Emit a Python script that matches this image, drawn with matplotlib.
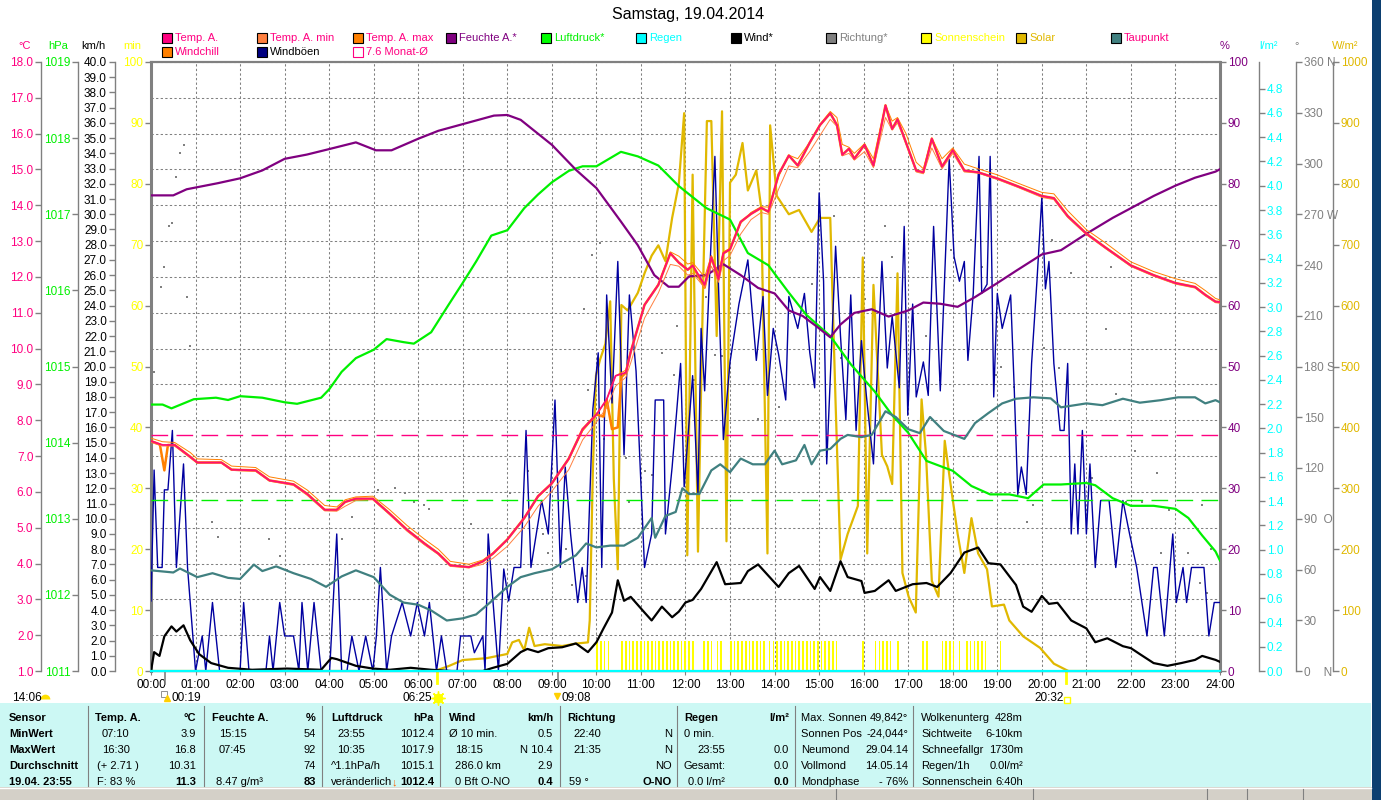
import numpy as np
import matplotlib
matplotlib.use("Agg")
import matplotlib.pyplot as plt
import matplotlib.transforms as mtransforms
from matplotlib.patches import Rectangle
from matplotlib.lines import Line2D

plt.rcParams['font.family'] = ['Liberation Sans', 'DejaVu Sans']

# ---------------- data (time in decimal hours) ----------------
title = "Samstag, 19.04.2014"

temp_t = [0.00, 0.26, 0.53, 0.88, 1.04, 1.58, 1.81, 2.35, 2.66, 3.20, 3.51, 3.90, 4.17, 4.36, 4.60,
          4.98, 5.36, 5.75, 6.14, 6.45, 6.72, 7.14, 7.45, 7.68, 8.00, 8.38, 8.69, 9.00, 9.38, 9.69,
          10.00, 10.23, 10.43, 10.66, 10.77, 11.08, 11.39, 11.66, 11.85, 12.05, 12.16, 12.43, 12.58,
          12.74, 12.85, 13.00, 13.24, 13.47, 13.70, 13.86, 14.09, 14.32, 14.52, 14.79, 15.02, 15.25,
          15.40, 15.52, 15.67, 15.79, 16.02, 16.22, 16.49, 16.64, 16.76, 16.95, 17.18, 17.34, 17.53,
          17.76, 18.00, 18.26, 18.57, 19.00, 19.46, 20.00, 20.27, 20.58, 21.00, 21.43, 22.00, 22.51,
          23.00, 23.44, 23.67, 23.90, 24.00]
temp_v = [7.42, 7.31, 7.31, 6.98, 6.82, 6.82, 6.62, 6.60, 6.32, 6.21,
          5.94, 5.50, 5.50, 5.72, 5.81, 5.81, 5.39, 4.94, 4.56, 4.28,
          3.95, 3.90, 4.06, 4.28, 4.67, 5.27, 5.88, 6.24, 6.93, 7.75,
          8.16, 8.58, 9.24, 9.33, 9.91, 11.22, 11.78, 12.66, 12.40, 12.20,
          12.32, 11.78, 12.55, 11.94, 12.66, 12.77, 13.54, 13.76, 13.93, 13.82,
          14.86, 15.39, 15.11, 15.75, 16.24, 16.57, 16.24, 15.41, 15.58, 15.30,
          15.69, 15.11, 16.79, 16.13, 16.40, 15.75, 14.97, 14.92, 15.86, 15.08,
          15.54, 14.97, 14.92, 14.75, 14.53, 14.26, 14.20, 13.70, 13.21, 12.82,
          12.32, 12.05, 11.83, 11.72, 11.50, 11.31, 11.30]
tmax_v = [7.50, 7.40, 7.38, 7.10, 6.92, 6.90, 6.72, 6.68, 6.42, 6.30,
          6.05, 5.62, 5.58, 5.78, 5.86, 5.88, 5.50, 5.06, 4.68, 4.40,
          4.06, 3.98, 4.10, 4.30, 4.68, 5.26, 5.86, 6.22, 6.90, 7.70,
          8.14, 8.58, 9.24, 9.40, 9.92, 11.20, 11.80, 12.70, 12.58, 12.36,
          12.40, 12.00, 12.60, 12.10, 12.70, 12.80, 13.50, 13.80, 13.96, 13.95,
          14.80, 15.40, 15.30, 15.76, 16.26, 16.62, 16.45, 15.70, 15.62, 15.45,
          15.72, 15.30, 16.80, 16.35, 16.45, 16.00, 15.20, 15.02, 15.88, 15.30,
          15.60, 15.15, 15.02, 14.85, 14.62, 14.36, 14.32, 13.85, 13.32, 12.95,
          12.42, 12.15, 11.95, 11.82, 11.62, 11.40, 11.36]
tmin_v = [7.38, 7.28, 7.28, 6.95, 6.80, 6.80, 6.60, 6.57, 6.30, 6.18,
          5.90, 5.47, 5.46, 5.60, 5.76, 5.78, 5.36, 4.90, 4.52, 4.25,
          3.92, 3.88, 3.98, 4.15, 4.48, 5.02, 5.60, 6.02, 6.62, 7.45,
          7.95, 8.35, 8.95, 9.20, 9.60, 10.85, 11.55, 12.35, 12.30, 12.05,
          12.10, 11.70, 12.30, 11.85, 12.45, 12.60, 13.20, 13.60, 13.80, 13.75,
          14.45, 15.10, 15.05, 15.50, 15.95, 16.40, 16.20, 15.38, 15.45, 15.26,
          15.50, 15.05, 16.45, 16.10, 16.30, 15.72, 14.93, 14.88, 15.60, 15.02,
          15.45, 14.93, 14.90, 14.72, 14.50, 14.22, 14.16, 13.66, 13.18, 12.79,
          12.29, 12.02, 11.80, 11.69, 11.47, 11.28, 11.27]

windchill = [(0.00, 7.42), (0.20, 7.32), (0.30, 6.60), (0.38, 7.31), (0.53, 7.31), (0.88, 6.98),
             (1.04, 6.82), (1.58, 6.82), (1.81, 6.62), (2.35, 6.60), (2.66, 6.32), (3.20, 6.21),
             (3.51, 5.94), (3.90, 5.50), (4.17, 5.50), (4.36, 5.72), (4.60, 5.81), (4.98, 5.81),
             (5.36, 5.39), (5.75, 4.94), (6.14, 4.56), (6.45, 4.28), (6.72, 3.95), (7.14, 3.90),
             (7.45, 4.06), (7.68, 4.28), (8.00, 4.67), (8.38, 5.27), (8.69, 5.88), (9.00, 6.24),
             (9.38, 6.93), (9.69, 7.75), (10.00, 8.16), (10.16, 8.10), (10.23, 8.58), (10.35, 7.75),
             (10.48, 7.80), (10.56, 9.20), (10.66, 9.33), (10.77, 9.91), (11.08, 11.22), (11.39, 11.78),
             (11.66, 12.66), (11.85, 12.40), (12.05, 12.20), (12.16, 12.32), (12.43, 11.70), (12.58, 12.55),
             (12.74, 11.94), (12.85, 12.66), (13.00, 12.77), (13.24, 13.54), (13.47, 13.76), (13.70, 13.93),
             (13.86, 13.82), (14.09, 14.86), (14.32, 15.39), (14.52, 15.11), (14.79, 15.75), (15.02, 16.24),
             (15.25, 16.57), (15.40, 16.24), (15.52, 15.41), (15.67, 15.58), (15.79, 15.30), (16.02, 15.69),
             (16.22, 15.11), (16.49, 16.79), (16.64, 16.13), (16.76, 16.40), (16.95, 15.75), (17.18, 14.97),
             (17.34, 14.92), (17.53, 15.86), (17.76, 15.08), (18.00, 15.54), (18.26, 14.97), (18.57, 14.92),
             (19.00, 14.75), (19.46, 14.53), (20.00, 14.26), (20.27, 14.20), (20.58, 13.70), (21.00, 13.21),
             (21.43, 12.82), (22.00, 12.32), (22.51, 12.05), (23.00, 11.83), (23.44, 11.72), (23.67, 11.50),
             (23.90, 11.31), (24.00, 11.30)]

dewpoint = [(0.00, 3.81), (0.50, 3.75), (0.65, 3.86), (1.04, 3.62), (1.38, 3.73), (1.73, 3.60), (2.00, 3.57),
            (2.31, 3.97), (2.50, 3.79), (2.81, 3.92), (3.20, 3.73), (3.59, 3.57), (3.93, 3.35), (4.28, 3.64),
            (4.60, 3.81), (5.00, 3.62), (5.36, 3.13), (5.67, 2.91), (6.00, 2.85), (6.29, 2.69), (6.64, 2.41),
            (7.00, 2.47), (7.30, 2.58), (7.61, 2.91), (8.00, 3.35), (8.30, 3.62), (8.61, 3.73), (9.00, 3.84),
            (9.23, 4.01), (9.54, 4.23), (9.77, 4.56), (10.00, 4.45), (10.31, 4.50), (10.62, 4.50), (10.93, 4.72),
            (11.24, 5.27), (11.32, 4.72), (11.55, 5.33), (11.78, 5.44), (11.93, 6.10), (12.08, 5.94), (12.31, 5.94),
            (12.58, 6.60), (12.78, 6.77), (13.00, 6.55), (13.24, 6.93), (13.51, 6.77), (13.78, 6.77), (14.00, 7.15),
            (14.17, 6.77), (14.48, 6.88), (14.67, 7.31), (14.83, 6.77), (15.02, 7.15), (15.25, 7.20), (15.48, 7.48),
            (15.64, 7.59), (15.95, 7.53), (16.18, 7.59), (16.49, 8.25), (16.72, 8.09), (17.00, 7.75), (17.26, 7.64),
            (17.49, 8.09), (17.80, 7.70), (18.03, 7.59), (18.26, 7.48), (18.50, 7.92), (18.80, 8.20), (19.11, 8.47),
            (19.42, 8.60), (19.81, 8.64), (20.20, 8.61), (20.43, 8.36), (21.00, 8.47), (21.36, 8.42), (21.82, 8.60),
            (22.20, 8.49), (22.67, 8.56), (23.06, 8.64), (23.44, 8.64), (23.67, 8.47), (23.90, 8.56), (24.00, 8.50)]

humidity = [(0.00, 78.1), (0.50, 78.1), (0.80, 79.1), (1.50, 80.1), (2.00, 80.9), (2.50, 82.2), (3.00, 84.1),
            (3.50, 84.8), (4.00, 85.7), (4.60, 86.8), (5.05, 85.5), (5.40, 85.5), (6.00, 87.4), (6.45, 88.7),
            (7.00, 89.8), (7.70, 91.2), (8.00, 91.3), (8.30, 90.5), (9.00, 86.4), (9.54, 82.3), (10.00, 79.3),
            (10.55, 73.8), (10.93, 69.9), (11.30, 65.0), (11.62, 63.1), (11.85, 63.1), (12.08, 64.8),
            (12.47, 65.0), (12.85, 66.8), (13.24, 65.0), (13.63, 62.9), (14.00, 62.0), (14.32, 59.2),
            (14.63, 58.3), (14.94, 56.6), (15.25, 54.8), (15.48, 56.9), (15.79, 58.8), (16.18, 59.4),
            (16.56, 58.2), (17.00, 59.2), (17.34, 60.5), (17.72, 60.3), (18.11, 59.8), (18.50, 61.4),
            (19.00, 63.7), (19.42, 65.7), (20.00, 68.4), (20.43, 69.1), (21.00, 71.8), (21.59, 74.4),
            (22.00, 76.0), (22.51, 78.0), (23.00, 79.7), (23.44, 81.0), (23.90, 82.0), (24.00, 82.4)]

pressure = [(0.00, 1014.50), (0.26, 1014.50), (0.46, 1014.45), (0.96, 1014.57), (1.46, 1014.59),
            (1.73, 1014.56), (2.00, 1014.61), (2.50, 1014.59), (3.00, 1014.53), (3.28, 1014.51),
            (3.82, 1014.59), (4.00, 1014.70), (4.28, 1014.93), (4.60, 1015.11), (5.00, 1015.22),
            (5.29, 1015.36), (5.67, 1015.32), (5.90, 1015.30), (6.29, 1015.45), (6.68, 1015.81),
            (7.00, 1016.10), (7.30, 1016.38), (7.64, 1016.72), (8.00, 1016.79), (8.38, 1017.08),
            (8.69, 1017.26), (9.00, 1017.42), (9.38, 1017.57), (9.69, 1017.63), (10.00, 1017.63),
            (10.55, 1017.82), (10.93, 1017.76), (11.39, 1017.64), (11.85, 1017.37), (12.47, 1017.08),
            (13.00, 1016.93), (13.40, 1016.49), (13.86, 1016.33), (14.32, 1015.97), (14.71, 1015.68),
            (15.25, 1015.40), (15.71, 1015.03), (16.25, 1014.67), (16.64, 1014.36), (17.00, 1014.13),
            (17.41, 1013.76), (18.00, 1013.63), (18.42, 1013.43), (18.84, 1013.32), (19.27, 1013.32),
            (19.69, 1013.27), (20.04, 1013.45), (20.43, 1013.45), (21.00, 1013.47), (21.20, 1013.44),
            (21.59, 1013.27), (22.00, 1013.17), (22.51, 1013.17), (23.00, 1013.13), (23.29, 1013.01),
            (23.60, 1012.78), (23.90, 1012.57), (24.00, 1012.45)]

wind = [(0.00, 0.0), (0.07, 1.24), (0.19, 0.99), (0.30, 2.28), (0.46, 2.93), (0.57, 2.59), (0.73, 3.00),
        (0.88, 2.02), (1.08, 1.11), (1.35, 0.52), (1.73, 0.21), (2.27, 0.08), (3.05, 0.16), (3.82, 0.08),
        (4.05, 0.86), (4.17, 0.78), (4.60, 0.34), (4.98, 0.16), (5.36, 0.08), (5.83, 0.21), (6.29, 0.08),
        (6.75, 0.0), (7.45, 0.0), (7.68, 0.21), (8.00, 0.47), (8.30, 1.24), (8.45, 1.45), (8.69, 1.24),
        (8.92, 1.50), (9.23, 1.56), (9.54, 1.81), (9.81, 1.24), (10.00, 1.89), (10.16, 2.80), (10.35, 3.84),
        (10.48, 5.96), (10.62, 4.61), (10.77, 4.87), (11.08, 3.84), (11.24, 3.32), (11.47, 4.23),
        (11.70, 3.53), (11.85, 3.90), (12.00, 4.50), (12.16, 4.67), (12.35, 5.39), (12.70, 7.15),
        (12.89, 5.70), (13.24, 5.78), (13.40, 6.56), (13.63, 7.00), (14.09, 5.52), (14.32, 6.43),
        (14.55, 6.90), (14.90, 5.39), (15.02, 6.17), (15.25, 5.26), (15.48, 7.21), (15.64, 6.17),
        (15.95, 5.91), (16.02, 5.13), (16.25, 5.26), (16.56, 5.96), (16.72, 5.26), (17.10, 5.70),
        (17.41, 5.78), (17.65, 5.52), (17.95, 6.43), (18.26, 7.78), (18.57, 8.11), (18.80, 7.08),
        (19.07, 7.00), (19.42, 5.65), (19.58, 4.23), (19.77, 3.89), (20.00, 4.93), (20.16, 4.41),
        (20.35, 4.48), (20.66, 3.32), (21.00, 2.80), (21.20, 1.89), (21.47, 2.15), (21.82, 1.63),
        (22.00, 1.50), (22.20, 1.11), (22.51, 0.52), (22.82, 0.34), (23.13, 0.52), (23.44, 0.73),
        (23.60, 0.99), (23.90, 0.73), (24.00, 0.60)]

gusts = [(0.00, 4.6), (0.07, 13.2), (0.15, 6.8), (0.25, 6.8), (0.30, 11.9), (0.38, 11.9), (0.48, 15.8),
         (0.57, 6.8), (0.73, 13.6), (0.82, 6.8), (1.00, 0.0), (1.15, 2.3), (1.23, 0.0), (1.38, 4.5),
         (1.54, 0.0), (2.00, 0.0), (2.08, 4.5), (2.20, 0.0), (2.58, 0.0), (2.66, 2.3), (2.74, 0.0),
         (2.89, 4.5), (3.00, 2.3), (3.20, 2.3), (3.32, 0.0), (3.39, 4.5), (3.52, 0.0), (3.66, 4.5),
         (3.82, 0.0), (4.01, 0.0), (4.17, 9.0), (4.28, 0.0), (4.40, 0.0), (4.51, 2.3), (4.67, 0.0),
         (4.82, 2.3), (4.98, 0.0), (5.06, 2.3), (5.15, 6.8), (5.29, 0.0), (5.40, 2.3), (5.64, 4.5),
         (5.83, 2.3), (5.98, 4.5), (6.14, 2.3), (6.25, 4.5), (6.41, 0.0), (6.52, 2.3), (6.64, 0.0),
         (6.87, 0.0), (6.95, 2.3), (7.18, 2.3), (7.26, 1.2), (7.45, 2.3), (7.50, 0.0), (7.57, 9.0),
         (7.68, 4.5), (7.80, 0.0), (7.92, 6.7), (8.03, 4.6), (8.15, 6.8), (8.30, 6.8), (8.42, 15.8),
         (8.53, 6.8), (8.65, 9.0), (8.77, 11.2), (8.92, 9.0), (9.07, 17.8), (9.19, 6.8), (9.30, 13.4),
         (9.42, 9.0), (9.58, 4.5), (9.68, 6.8), (9.77, 4.5), (9.92, 17.2), (10.04, 20.9), (10.12, 6.8),
         (10.23, 24.7), (10.35, 17.6), (10.48, 26.9), (10.62, 14.2), (10.74, 24.7), (10.89, 19.7),
         (11.08, 6.8), (11.24, 9.0), (11.32, 17.8), (11.51, 17.8), (11.55, 9.0), (11.70, 13.4),
         (11.89, 20.2), (11.97, 12.1), (12.16, 19.4), (12.28, 11.6), (12.35, 22.5), (12.43, 18.4),
         (12.55, 26.6), (12.66, 33.8), (12.74, 25.4), (12.85, 15.2), (13.00, 20.3), (13.20, 24.1),
         (13.40, 27.0), (13.59, 20.4), (13.74, 24.6), (13.84, 18.1), (13.97, 22.5), (14.09, 20.8),
         (14.25, 17.8), (14.32, 24.6), (14.52, 22.5), (14.67, 24.8), (14.79, 20.9), (14.90, 18.6),
         (15.00, 31.4), (15.10, 25.6), (15.17, 13.6), (15.29, 22.0), (15.37, 27.9), (15.48, 22.0),
         (15.60, 16.5), (15.71, 24.7), (15.83, 15.8), (15.95, 21.7), (16.06, 18.1), (16.22, 13.6),
         (16.41, 26.9), (16.53, 19.9), (16.64, 23.3), (16.80, 18.6), (16.91, 29.2), (16.99, 16.8),
         (17.10, 24.1), (17.18, 18.0), (17.34, 20.3), (17.45, 18.1), (17.57, 29.2), (17.72, 18.4),
         (17.92, 33.6), (18.03, 27.2), (18.15, 25.6), (18.26, 26.9), (18.34, 20.4), (18.46, 24.8),
         (18.59, 33.8), (18.65, 24.8), (18.77, 25.4), (18.84, 33.8), (18.92, 18.0), (19.00, 24.8),
         (19.11, 22.5), (19.30, 24.7), (19.38, 18.6), (19.46, 11.6), (19.54, 13.4), (19.65, 11.6),
         (19.77, 20.2), (19.89, 25.6), (20.00, 31.1), (20.08, 25.1), (20.16, 26.9), (20.27, 20.2),
         (20.41, 15.8), (20.50, 15.8), (20.58, 20.2), (20.66, 9.0), (20.74, 13.6), (20.81, 9.0),
         (20.91, 15.8), (21.00, 9.0), (21.08, 13.6), (21.20, 6.8), (21.32, 11.2), (21.51, 11.2),
         (21.66, 6.8), (21.82, 11.2), (21.97, 9.0), (22.13, 6.8), (22.36, 2.3), (22.51, 6.8),
         (22.59, 6.8), (22.75, 2.3), (22.94, 9.0), (23.02, 4.5), (23.17, 6.8), (23.25, 4.5),
         (23.36, 6.8), (23.64, 6.8), (23.75, 2.3), (23.87, 4.5), (24.00, 4.5)]

solar = [(0.00, 0), (6.37, 0), (6.68, 8), (7.00, 18), (7.53, 21), (8.00, 28), (8.11, 47), (8.26, 51),
         (8.38, 34), (8.49, 71), (8.61, 41), (8.84, 44), (9.23, 41), (9.54, 45), (9.81, 47), (9.85, 83),
         (9.92, 329), (9.99, 485), (10.08, 511), (10.20, 537), (10.31, 607), (10.39, 316), (10.48, 167),
         (10.56, 601), (10.70, 592), (10.93, 621), (11.08, 653), (11.24, 682), (11.39, 699), (11.55, 673),
         (11.70, 744), (11.85, 800), (11.97, 916), (12.04, 190), (12.16, 815), (12.28, 196), (12.39, 614),
         (12.48, 903), (12.58, 903), (12.70, 550), (12.82, 919), (12.92, 213), (13.00, 802), (13.13, 815),
         (13.28, 867), (13.40, 789), (13.59, 822), (13.70, 760), (13.84, 193), (13.90, 896), (14.05, 780),
         (14.32, 750), (14.55, 757), (14.83, 721), (15.02, 744), (15.25, 744), (15.37, 439), (15.48, 183),
         (15.64, 225), (15.87, 271), (15.98, 679), (16.08, 193), (16.22, 634), (16.41, 355), (16.53, 336),
         (16.64, 307), (16.76, 653), (16.87, 161), (17.01, 122), (17.17, 96), (17.30, 446), (17.40, 355),
         (17.53, 148), (17.68, 122), (17.82, 378), (17.95, 307), (18.11, 225), (18.26, 161), (18.42, 251),
         (18.57, 193), (18.77, 167), (18.88, 106), (19.15, 109), (19.27, 83), (19.58, 57), (19.96, 38),
         (20.27, 12), (20.54, 2), (20.60, 0), (24.00, 0)]

dir_t = [0.07, 0.23, 0.30, 0.40, 0.48, 0.56, 0.65, 0.73, 0.80, 0.88, 1.38, 1.50, 2.66, 2.89, 3.05,
         4.28, 4.51, 5.09, 5.48, 5.71, 5.91, 6.14, 6.25, 7.18, 8.07, 8.46, 8.80, 8.92, 9.31, 9.46,
         9.73, 9.77, 9.81, 9.89, 10.08, 10.16, 10.66, 10.74, 11.08, 11.24, 11.47, 11.74, 11.82, 12.20,
         12.47, 12.66, 12.82, 13.63, 14.09, 14.83, 15.33, 15.48, 16.02, 16.49, 16.64, 17.41, 17.72,
         17.95, 18.42, 18.65, 18.96, 19.08, 19.38, 19.66, 19.81, 20.04, 20.23, 20.39, 20.66, 21.12,
         21.43, 21.55, 21.66, 21.90, 22.09, 22.24, 22.59, 22.67, 22.86, 23.29, 23.56, 23.60, 23.71, 23.79]
dir_v = [177, 227, 239, 263, 265, 292, 306, 311, 221, 192, 88, 79, 78, 68, 60,
         78, 91, 107, 108, 105, 100, 98, 96, 87, 105, 118, 81, 70, 72, 51,
         214, 56, 166, 246, 253, 137, 126, 100, 118, 116, 188, 175, 204, 172,
         221, 187, 186, 149, 156, 229, 269, 185, 220, 263, 245, 198, 172,
         249, 255, 239, 175, 180, 168, 88, 98, 191, 255, 179, 235, 114,
         202, 239, 164, 100, 130, 100, 117, 70, 95, 70, 52, 98, 46, 72]

# sunshine periods (5 min slots, 5 min of sun each)
sun_intervals = [(10.00, 10.32), (10.56, 12.20), (12.40, 12.62), (12.70, 12.83), (13.00, 13.75),
                 (13.87, 15.38), (15.96, 16.00), (16.25, 16.60), (16.75, 16.79), (17.32, 17.45),
                 (17.75, 18.00), (18.13, 18.17), (18.30, 18.77), (19.05, 19.09)]
sun_slot_minutes = 5

rain_t = [0.0, 24.0]
rain_v = [0.0, 0.0]

month_avg_temp = 7.6
normal_pressure = 1013.25
sunrise = 6 + 25 / 60
sunset = 20 + 32 / 60
moon_marks = [0 + 19 / 60, 9 + 8 / 60]

hours = list(range(25))
hour_labels = [f"{h:02d}:00" for h in hours]
temp_ticks = list(range(1, 19))
hpa_ticks = list(range(1011, 1020))
kmh_ticks = list(range(0, 41))
pct_ticks = list(range(0, 101, 10))
rain_ticks = [round(0.2 * i, 1) for i in range(25)]
dir_ticks = list(range(0, 361, 30))
dir_labels = ["0    N", "30", "60", "90  O", "120", "150", "180 S", "210", "240",
              "270 W", "300", "330", "360 N"]
solar_ticks = list(range(0, 1001, 100))

# ---------------- colours ----------------
PINK = '#FF0080'
TEMPC = '#FF1070'
GREEN = '#00F000'
YELLOW = '#FFFF00'
PURPLE = '#800080'
CYAN = '#00FFFF'
GRAY = '#808080'
GOLD = '#E0B800'
TEAL = '#408080'
NAVY = '#0000A0'
ORANGE = '#FF8000'
SALMON = '#FF8040'

# ---------------- figure ----------------
W, H = 1381, 800
PL, PR, PT, PB = 151, 1220, 62, 671


def fx(x):
    return x / W


def fy(y):
    return 1 - y / H


fig = plt.figure(figsize=(W / 100, H / 100), dpi=100)
fig.patch.set_facecolor('white')

ax = fig.add_axes([fx(PL), fy(PB), (PR - PL) / W, (PB - PT) / H])
ax.set_xlim(0, 24)
ax.set_ylim(1, 18)
ax.set_xticks(hours)
ax.set_xticklabels(hour_labels)
ax.set_yticks(temp_ticks)
ax.grid(True, color=GRAY, linestyle=(0, (2.2, 2.2)), linewidth=0.75)
for side, lw in [('left', 2.2), ('right', 2.2), ('top', 1.6), ('bottom', 1.0)]:
    ax.spines[side].set_color(GRAY)
    ax.spines[side].set_linewidth(lw)
ax.tick_params(axis='x', colors=GRAY, labelcolor='black', length=3, pad=3, labelsize=8.5)


def make_axis(ylim, side, xpix, ticks, labels, color, show_spine=True):
    a = ax.twinx()
    a.set_ylim(*ylim)
    for s in a.spines.values():
        s.set_visible(False)
    a.yaxis.set_ticks_position(side)
    a.yaxis.set_label_position(side)
    sp = a.spines[side]
    sp.set_position(('axes', (xpix - PL) / (PR - PL)))
    sp.set_visible(show_spine)
    sp.set_color(GRAY)
    sp.set_linewidth(1.0)
    a.set_yticks(ticks)
    a.set_yticklabels(labels)
    a.tick_params(axis='y', colors=GRAY, labelcolor=color, length=4, width=1,
                  pad=1.5, labelsize=8.5)
    return a


ax_min = make_axis((0, 100), 'left', PL, pct_ticks, [str(v) for v in pct_ticks], YELLOW, False)
ax_dir = make_axis((0, 360), 'right', 1296, dir_ticks, dir_labels, GRAY)
ax_sol = make_axis((0, 1000), 'right', 1333, solar_ticks, [str(v) for v in solar_ticks], GOLD)
ax_kmh = make_axis((0, 40), 'left', 114.5, kmh_ticks, [f"{v:.1f}" for v in kmh_ticks], 'black')
ax_rain = make_axis((0, 5.02), 'right', 1259, rain_ticks, [f"{v:.1f}" for v in rain_ticks], CYAN)
ax_hpa = make_axis((1011, 1019), 'left', 78, hpa_ticks, [str(v) for v in hpa_ticks], GREEN)
ax_pct = make_axis((0, 100), 'right', PR, pct_ticks, [str(v) for v in pct_ticks], PURPLE, False)
ax_t = make_axis((1, 18), 'left', 41, temp_ticks, [f"{v:.1f}" for v in temp_ticks], PINK)

ax.tick_params(axis='y', left=False, right=False, labelleft=False, labelright=False)

# sunshine bars
for s, e in sun_intervals:
    slots = np.arange(s, e + 1e-6, 5 / 60)
    ax_min.bar(slots, [sun_slot_minutes] * len(slots), width=2.2 / 60, align='edge',
               color=YELLOW, linewidth=0)

# wind direction dots
ax_dir.scatter(dir_t, dir_v, s=4, marker='s', color=GRAY, linewidths=0)

# solar radiation
st, sv = zip(*solar)
ax_sol.plot(st, sv, color=GOLD, lw=1.6)

# gusts and wind
gt, gv = zip(*gusts)
ax_kmh.plot(gt, gv, color=NAVY, lw=1.0)
wt, wv = zip(*wind)
ax_kmh.plot(wt, wv, color='black', lw=1.6)

# rain
ax_rain.plot(rain_t, rain_v, color=CYAN, lw=1.6, clip_on=False)

# pressure
pt_, pv = zip(*pressure)
ax_hpa.axhline(normal_pressure, color=GREEN, lw=1.0, ls=(0, (12, 6)))
ax_hpa.plot(pt_, pv, color=GREEN, lw=1.6)

# humidity
ht, hv = zip(*humidity)
ax_pct.plot(ht, hv, color=PURPLE, lw=1.6)

# temperatures
dt, dv = zip(*dewpoint)
ax_t.axhline(month_avg_temp, color=PINK, lw=1.0, ls=(0, (12, 6)))
ax_t.plot(dt, dv, color=TEAL, lw=1.6)
ct, cv = zip(*windchill)
ax_t.plot(ct, cv, color=ORANGE, lw=1.8)
ax_t.plot(temp_t, tmin_v, color=SALMON, lw=0.7)
ax_t.plot(temp_t, tmax_v, color=ORANGE, lw=0.7)
ax_t.plot(temp_t, temp_v, color=TEMPC, lw=1.3)

# sun / moon marks under the time axis
trans = mtransforms.blended_transform_factory(ax.transData, ax.transAxes)
for t in (sunrise, sunset):
    ax.plot([t, t], [0, -12 / 609], transform=trans, color=YELLOW, lw=2, clip_on=False)
for t in moon_marks:
    ax.plot([t, t], [0, -13 / 609], transform=trans, color=GRAY, lw=1.2, clip_on=False)

# ---------------- texts around the plot ----------------
fig.text(fx(688), fy(15), title, fontsize=11.5, ha='center', va='center')

headers = [("°C", 25, PINK), ("hPa", 58, GREEN), ("km/h", 93, 'black'), ("min", 132, YELLOW),
           ("%", 1225, PURPLE), ("l/m²", 1268, CYAN), ("°", 1297, GRAY), ("W/m²", 1345, GOLD)]
for txt, x, c in headers:
    fig.text(fx(x), fy(46), txt, color=c, fontsize=8, ha='center', va='center')

legend_row1 = [("Temp. A.", PINK, PINK, 162), ("Temp. A. min", SALMON, PINK, 257),
               ("Temp. A. max", ORANGE, PINK, 353), ("Feuchte A.*", PURPLE, PURPLE, 446),
               ("Luftdruck*", '#00FF00', GREEN, 541), ("Regen", CYAN, CYAN, 636),
               ("Wind*", 'black', 'black', 731), ("Richtung*", GRAY, GRAY, 826),
               ("Sonnenschein", YELLOW, YELLOW, 921), ("Solar", GOLD, GOLD, 1016),
               ("Taupunkt", TEAL, PINK, 1111)]
legend_row2 = [("Windchill", ORANGE, PINK, 162), ("Windböen", '#000080', 'black', 257),
               (f"{month_avg_temp} Monat-Ø", 'white', PINK, 353)]
for row, ly in ((legend_row1, 38), (legend_row2, 52)):
    for lab, fc, tc, x0 in row:
        ec = PINK if fc == 'white' else 'black'
        fig.add_artist(Rectangle((fx(x0), fy(ly + 5)), 10 / W, 10 / H, transform=fig.transFigure,
                                 facecolor=fc, edgecolor=ec, lw=0.8))
        fig.text(fx(x0 + 13), fy(ly), lab, color=tc, fontsize=8, ha='left', va='center')

# astronomical time labels
tf = fig.transFigure
fig.text(fx(12), fy(698), "14:06", fontsize=8.5, va='center')
fig.add_artist(Line2D([fx(45)], [fy(699)], marker='o', markersize=7, fillstyle='top',
                      markerfacecolor='#FFE000', markerfacecoloralt='none',
                      markeredgecolor='none', transform=tf))
fig.text(fx(172), fy(698), "00:19", fontsize=8.5, va='center')
fig.add_artist(Line2D([fx(164)], [fy(694)], marker='s', markersize=5, markerfacecolor='none',
                      markeredgecolor=GRAY, markeredgewidth=0.6, transform=tf))
fig.add_artist(Line2D([fx(167)], [fy(698)], marker='^', markersize=5, color='#FFD000', transform=tf))
fig.text(fx(432), fy(698), "06:25", fontsize=8.5, va='center', ha='right')
fig.add_artist(Line2D([fx(438)], [fy(698)], marker=(8, 2, 0), markersize=10,
                      markeredgecolor=YELLOW, markeredgewidth=1, transform=tf))
fig.add_artist(Line2D([fx(438)], [fy(698)], marker='o', markersize=6, color=YELLOW, transform=tf))
fig.text(fx(562), fy(698), "09:08", fontsize=8.5, va='center')
fig.add_artist(Line2D([fx(557)], [fy(696)], marker='v', markersize=5, color='#FFD000', transform=tf))
fig.text(fx(1034), fy(698), "20:32", fontsize=8.5, va='center')
fig.add_artist(Line2D([fx(1067)], [fy(700)], marker='s', markersize=5, markerfacecolor='none',
                      markeredgecolor=YELLOW, markeredgewidth=1, transform=tf))

# ---------------- bottom table ----------------
fig.add_artist(Rectangle((0, fy(787)), fx(1371), (787 - 703) / H, transform=tf,
                         facecolor='#CCF8F4', edgecolor='none'))
fig.add_artist(Rectangle((0, 0), fx(1372), 13 / H, transform=tf,
                         facecolor='#D4D0C8', edgecolor='none'))
fig.add_artist(Line2D([0, fx(1371)], [fy(788), fy(788)], color='white', lw=1, transform=tf))
for x in [836, 1033, 1207, 1247, 1303]:
    fig.add_artist(Line2D([fx(x), fx(x)], [fy(789), 0], color=GRAY, lw=0.8, transform=tf))
for x in [88, 204, 322, 440, 560, 677, 795, 913]:
    fig.add_artist(Line2D([fx(x), fx(x)], [fy(706), fy(786)], color=GRAY, lw=0.8, transform=tf))

row_y = [718, 734, 750, 766, 782]
sensor_col = ["Sensor", "MinWert", "MaxWert", "Durchschnitt", "19.04. 23:55"]
blocks = [
    (95, 196, "Temp. A.", "°C", [("07:10", 102), ("16:30", 102), ("(+ 2.71 )", 97), ("F: 83 %", 97)],
     ["3.9", "16.8", "10.31", "11.3"]),
    (212, 316, "Feuchte A.", "%", [("15:15", 219), ("07:45", 219), ("", 219), ("8.47 g/m³", 216)],
     ["54", "92", "74", "83"]),
    (331, 434, "Luftdruck", "hPa", [("23:55", 337), ("10:35", 337), ("^1.1hPa/h", 331), ("veränderlich", 331)],
     ["1012.4", "1017.9", "1015.1", "1012.4"]),
    (449, 553, "Wind", "km/h", [("Ø 10 min.", 449), ("18:15", 455), ("286.0 km", 455), ("0 Bft O-NO", 455)],
     ["0.5", "N 10.4", "2.9", "0.4"]),
    (567, 672, "Richtung", "", [("22:40", 573), ("21:35", 573), ("", 573), ("59 °", 569)],
     ["N", "N", "NO", "O-NO"]),
    (684, 789, "Regen", "l/m²", [("0 min.", 684), ("23:55", 697), ("Gesamt:", 684), ("0.0 l/m²", 688)],
     ["", "0.0", "0.0", "0.0"]),
]
astro_col = [("Max. Sonnen", "49,842°"), ("Sonnen Pos", "-24,044°"), ("Neumond", "29.04.14"),
             ("Vollmond", "14.05.14"), ("Mondphase", "- 76%")]
extra_col = [("Wolkenunterg", "428m"), ("Sichtweite", "6-10km"), ("Schneefallgr", "1730m"),
             ("Regen/1h", "0.0l/m²"), ("Sonnenschein", "6:40h")]
pressure_trend_arrow = "↓"

for y, txt in zip(row_y, sensor_col):
    fig.text(fx(9), fy(y), txt, fontsize=8, fontweight='bold', va='center')
for xl, xr, head, unit, lefts, rights in blocks:
    fig.text(fx(xl), fy(row_y[0]), head, fontsize=8, fontweight='bold', va='center')
    fig.text(fx(xr), fy(row_y[0]), unit, fontsize=8, fontweight='bold', va='center', ha='right')
    for i, ((lt, lx), rt) in enumerate(zip(lefts, rights)):
        y = row_y[i + 1]
        fig.text(fx(lx), fy(y), lt, fontsize=8, va='center')
        fig.text(fx(xr), fy(y), rt, fontsize=8, va='center', ha='right',
                 fontweight='bold' if i == 3 else 'normal')
fig.text(fx(397), fy(row_y[4]), pressure_trend_arrow, fontsize=8, fontweight='bold',
         color='#FF6000', va='center', ha='right')
for y, (lab, val) in zip(row_y, astro_col):
    fig.text(fx(801), fy(y), lab, fontsize=8, va='center')
    fig.text(fx(908), fy(y), val, fontsize=8, va='center', ha='right')
for y, (lab, val) in zip(row_y, extra_col):
    fig.text(fx(921), fy(y), lab, fontsize=8, va='center')
    fig.text(fx(1023), fy(y), val, fontsize=8, va='center', ha='right')

# desktop strip on the right edge
fig.add_artist(Rectangle((fx(1372), 0), 9 / W, 1, transform=tf, facecolor='#0C3F70', edgecolor='none'))

fig.savefig("out.png", dpi=100, facecolor='white')
